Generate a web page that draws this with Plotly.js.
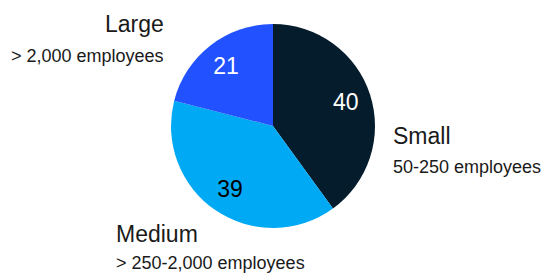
<!DOCTYPE html>
<html><head><meta charset="utf-8">
<script src="https://cdn.plot.ly/plotly-3.0.1.min.js"></script>
<style>html,body{margin:0;padding:0;background:#fff}#chart{width:552px;height:273px}</style>
</head><body><div id="chart"></div>
<script>
const categories = ["Small", "Medium", "Large"];
const subtitles = ["50-250 employees", "> 250-2,000 employees", "> 2,000 employees"];
const values = [40, 39, 21];
const sliceColors = ["#051c2c", "#00a9f4", "#2251ff"];
const textColors = ["#ffffff", "#000000", "#ffffff"];

const W = 552, H = 273;
const px = x => x / W, py = y => 1 - y / H;
const font = "'Liberation Sans', Arial, sans-serif";
const labelPos = [
  {x: 391, y1: 136, y2: 167, xanchor: "left"},
  {x: 114, y1: 234, y2: 263, xanchor: "left"},
  {x: 166, y1: 24, y2: 56, xanchor: "right"}
];
const annotations = [];
categories.forEach((c, i) => {
  const p = labelPos[i];
  annotations.push({xref: "paper", yref: "paper", x: px(p.x), y: py(p.y1), xanchor: p.xanchor, yanchor: "middle",
    text: c, showarrow: false, font: {family: font, size: 23, color: "#1a1a1a"}});
  annotations.push({xref: "paper", yref: "paper", x: px(p.x), y: py(p.y2), xanchor: p.xanchor, yanchor: "middle",
    text: subtitles[i], showarrow: false, font: {family: font, size: 18, color: "#1a1a1a"}});
});

const dom = {x: [px(171), px(375)], y: [py(228), py(24)]};
Plotly.newPlot("chart", [{
  type: "pie",
  labels: categories,
  values: values,
  sort: false,
  direction: "clockwise",
  rotation: 0,
  marker: {colors: sliceColors, line: {width: 0}},
  textinfo: "none",
  hoverinfo: "none",
  domain: dom
}, {
  type: "pie",
  labels: categories,
  values: values,
  sort: false,
  direction: "clockwise",
  rotation: 0,
  hole: 0.5,
  marker: {colors: ["rgba(0,0,0,0)", "rgba(0,0,0,0)", "rgba(0,0,0,0)"], line: {width: 0}},
  texttemplate: "%{value}",
  textposition: "inside",
  insidetextorientation: "horizontal",
  textfont: {family: font, size: 23, color: textColors},
  hoverinfo: "none",
  domain: dom
}], {
  width: W, height: H,
  margin: {l: 0, r: 0, t: 0, b: 0},
  paper_bgcolor: "#fff",
  showlegend: false,
  annotations: annotations
}, {staticPlot: true, displayModeBar: false});
</script></body></html>
